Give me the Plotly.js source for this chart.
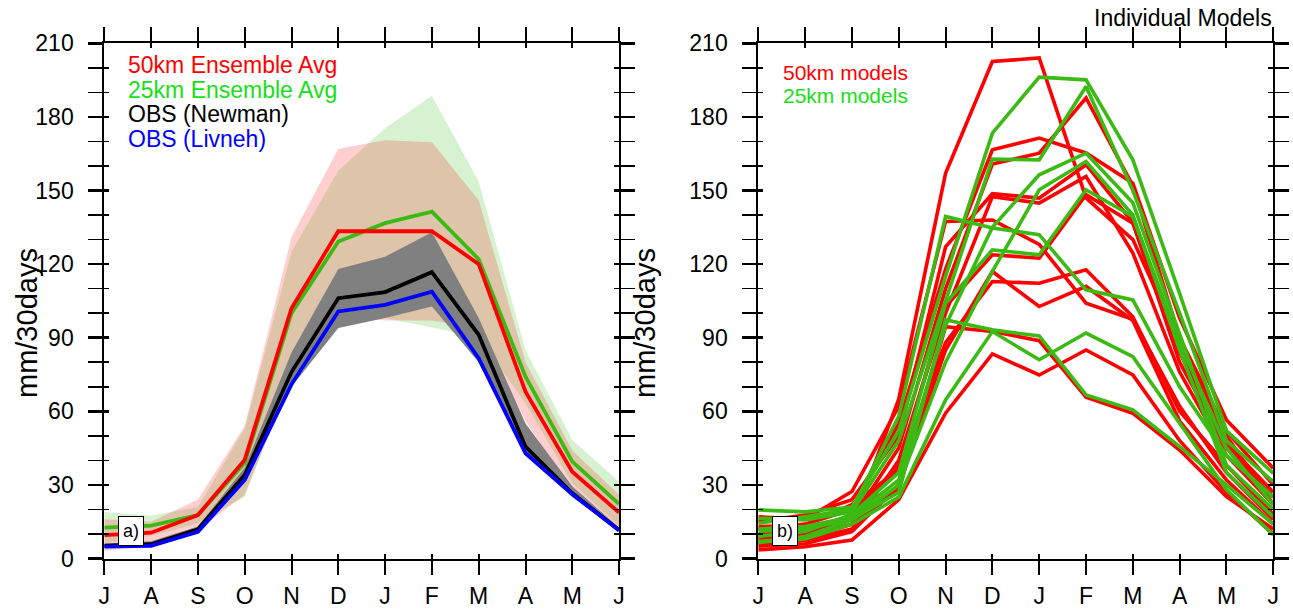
<!DOCTYPE html>
<html>
<head>
<meta charset="utf-8">
<script src="https://cdn.plot.ly/plotly-3.0.1.min.js"></script>
<style>html,body{margin:0;padding:0;background:#fff;}#chart{width:1293px;height:613px;}</style>
</head>
<body>
<div id="chart"></div>
<script>
// ---- data ----
var monthLabels = ['J','A','S','O','N','D','J','F','M','A','M','J'];
var monthIdx = [0,1,2,3,4,5,6,7,8,9,10,11];

// Panel a) ensemble averages
var avg50 = [9.5, 10.5, 17.7, 40.2, 102, 133.4, 133.4, 133.4, 120, 68, 35.4, 18.7];
var avg25 = [12.6, 13.4, 17.7, 39, 100, 129.2, 136.7, 141.4, 122, 74.1, 39.5, 22.2];
var obsNewman = [5.2, 5.8, 11.9, 34, 76, 106.1, 108.6, 116.7, 91.2, 45.6, 26.6, 11.6];
var obsLivneh = [4.8, 5.2, 10.9, 32, 71, 100.7, 103.4, 108.8, 81.6, 42.9, 26.3, 11.4];
// spread envelopes
var hi50 = [16, 15, 24, 54, 131, 167, 170.5, 169.7, 146, 80, 44, 26];
var lo50 = [3, 6, 11.4, 26, 73, 99, 97, 97, 94, 56, 27, 12];
var hi25 = [19, 17.5, 21, 53, 125, 158, 175.4, 188.6, 153.7, 85, 48.3, 31.3];
var lo25 = [6.2, 9.3, 14.4, 25.2, 75, 100.4, 98, 94.2, 90.3, 63.2, 30.7, 13.1];
var hiObs = [6, 7, 13, 37, 84, 118, 123, 133, 98, 55, 29.5, 12.5];
var loObs = [4.5, 5, 10.5, 31, 70, 94, 98, 102.7, 80, 42, 25, 11];

// Panel b) individual models
var models50 = [
  [9, 8, 14, 65, 157, 202.6, 204, 147, 130, 88, 50, 22],
  [12, 14, 20, 55, 118, 166.6, 171.4, 165.3, 153, 98, 56.5, 36.8],
  [10, 11, 16, 45, 110, 160.8, 165.2, 187.7, 152, 90, 52, 30],
  [15, 17.7, 24, 50, 127, 148.7, 146.9, 160.5, 137, 80, 45, 25],
  [6, 7.5, 12, 40, 100, 147.5, 144.9, 155.7, 124.5, 76, 42, 22],
  [17, 16, 27.3, 62, 137.4, 138, 128, 104.1, 97.5, 62, 35, 16],
  [8, 10, 18, 38, 102.7, 123.8, 122.4, 148.3, 136.7, 84, 47, 27],
  [13, 13.7, 22, 36, 88, 112.9, 112.2, 117.7, 98.5, 60, 38, 18],
  [5, 6, 11, 30, 85, 117, 102.7, 110.9, 97, 56, 32, 14],
  [7, 9, 14, 28, 94.5, 92.5, 88.8, 65.7, 59.2, 44.2, 25.2, 12],
  [3.5, 4.8, 7.5, 24, 59.2, 83.4, 74.8, 85, 74.8, 48, 27, 10]
];
var models25 = [
  [19.8, 19, 21, 52, 115, 173.4, 196.2, 195.1, 162.5, 108, 52, 34.7],
  [16.4, 15.7, 19, 48, 105, 162.8, 162.5, 192.4, 150, 100, 48, 31.3],
  [14.4, 17, 20, 58, 139.4, 134.7, 132, 109.5, 105.4, 70, 42, 25],
  [9, 11, 18, 35, 104, 125.8, 123.8, 150.3, 139.4, 88, 45, 22],
  [12, 13, 17, 32, 95, 135, 156.4, 165.2, 145, 92, 38, 20],
  [6.4, 9, 15.7, 30, 80, 117, 150.3, 161.8, 140, 85, 35, 17],
  [11, 12, 16, 27, 97.3, 93.2, 90.7, 66.7, 60.6, 45.6, 30, 14],
  [7, 8, 14, 25, 64.6, 92.5, 81, 91.9, 82.3, 55, 28, 9.6]
];

var legendA = ['50km Ensemble Avg', '25km Ensemble Avg', 'OBS (Newman)', 'OBS (Livneh)'];
var legendB = ['50km models', '25km models'];

// ---- styles ----
var RED = '#ff0000', GREEN_LINE = '#3cba14', GREEN_TXT = '#16e016', BLUE = '#0000ff', BLACK = '#000000';
var FONT = 'Liberation Sans, Arial, Helvetica, sans-serif';

function band(hi, lo, color, xa, ya) {
  var xs = monthIdx.concat(monthIdx.slice().reverse());
  var ys = hi.concat(lo.slice().reverse());
  return {x: xs, y: ys, xaxis: xa, yaxis: ya, mode: 'lines', fill: 'toself',
          fillcolor: color, line: {width: 0, color: 'rgba(0,0,0,0)'}, hoverinfo: 'skip', showlegend: false};
}
function line(y, color, w, xa, ya) {
  return {x: monthIdx, y: y, xaxis: xa, yaxis: ya, mode: 'lines',
          line: {color: color, width: w}, showlegend: false, hoverinfo: 'skip'};
}

var traces = [];
traces.push(band(hi25, lo25, 'rgba(40,185,10,0.19)', 'x', 'y'));
traces.push(band(hi50, lo50, 'rgba(255,0,0,0.19)', 'x', 'y'));
traces.push(band(hiObs, loObs, 'rgb(128,128,128)', 'x', 'y'));
traces.push(line(obsNewman, BLACK, 3.8, 'x', 'y'));
traces.push(line(obsLivneh, BLUE, 3.8, 'x', 'y'));
traces.push(line(avg25, GREEN_LINE, 3.8, 'x', 'y'));
traces.push(line(avg50, RED, 3.8, 'x', 'y'));

models50.forEach(function(m){ traces.push(line(m, RED, 3.6, 'x2', 'y2')); });
models25.forEach(function(m){ traces.push(line(m, GREEN_LINE, 3.6, 'x2', 'y2')); });

// empty traces to register overlay (inner tick) axes
traces.push({x: [], y: [], xaxis: 'x3', yaxis: 'y3', mode: 'lines', showlegend: false});
traces.push({x: [], y: [], xaxis: 'x4', yaxis: 'y4', mode: 'lines', showlegend: false});

var W = 1293, H = 613;
var domA = [104.3 / W, 619.1 / W];
var domB = [758.3 / W, 1273.3 / W];
var domY = [(H - 558.5) / H, (H - 43.3) / H];

function xAxisMain(dom, anchor) {
  return {domain: dom, anchor: anchor, range: [0, 11], tickvals: monthIdx, ticktext: monthLabels,
          showgrid: false, zeroline: false, showline: true, linewidth: 2, linecolor: BLACK, mirror: 'ticks',
          ticks: 'outside', ticklen: 14, tickwidth: 2, tickcolor: BLACK, ticklabelstandoff: 2,
          tickfont: {family: FONT, size: 23, color: BLACK}, fixedrange: true};
}
function yAxisMain(anchor) {
  return {domain: domY, anchor: anchor, range: [0, 210], tickmode: 'linear', tick0: 0, dtick: 30,
          showgrid: false, zeroline: false, showline: true, linewidth: 2, linecolor: BLACK, mirror: 'ticks',
          ticks: 'outside', ticklen: 14, tickwidth: 2.5, tickcolor: BLACK, ticklabelstandoff: 10,
          minor: {dtick: 10, ticks: 'outside', ticklen: 14, tickwidth: 1.5, tickcolor: BLACK, showgrid: false},
          tickfont: {family: FONT, size: 23, color: BLACK}, fixedrange: true};
}
function xAxisInner(dom, over, anchor) {
  return {domain: dom, overlaying: over, anchor: anchor, range: [0, 11], tickvals: monthIdx,
          showticklabels: false, showgrid: false, zeroline: false, showline: false, mirror: 'ticks',
          ticks: 'inside', ticklen: 5, tickwidth: 2, tickcolor: BLACK, fixedrange: true};
}
function yAxisInner(over, anchor) {
  return {domain: domY, overlaying: over, anchor: anchor, range: [0, 210], tickmode: 'linear', tick0: 0, dtick: 30,
          showticklabels: false, showgrid: false, zeroline: false, showline: false, mirror: 'ticks',
          ticks: 'inside', ticklen: 5, tickwidth: 2.5, tickcolor: BLACK,
          minor: {dtick: 10, ticks: 'inside', ticklen: 5, tickwidth: 1.5, tickcolor: BLACK, showgrid: false},
          fixedrange: true};
}

var annotations = [];
var colorsA = [RED, GREEN_TXT, BLACK, BLUE];
var yA = [65, 89.5, 114, 138.5];
legendA.forEach(function(t, i){
  annotations.push({text: t, xref: 'paper', yref: 'paper', x: 126 / W, y: 1 - yA[i] / H,
    xanchor: 'left', yanchor: 'middle', showarrow: false, font: {family: FONT, size: 23, color: colorsA[i]}});
});
var colorsB = [RED, GREEN_TXT];
var yB = [72.5, 95.5];
legendB.forEach(function(t, i){
  annotations.push({text: t, xref: 'paper', yref: 'paper', x: 781 / W, y: 1 - yB[i] / H,
    xanchor: 'left', yanchor: 'middle', showarrow: false, font: {family: FONT, size: 21, color: colorsB[i]}});
});
annotations.push({text: 'Individual Models', xref: 'paper', yref: 'paper', x: 1274 / W, y: 1 - 18 / H,
  xanchor: 'right', yanchor: 'middle', showarrow: false, font: {family: FONT, size: 23, color: BLACK}});
annotations.push({text: 'mm/30days', xref: 'paper', yref: 'paper', x: 27 / W, y: 1 - 323 / H,
  xanchor: 'center', yanchor: 'middle', textangle: -90, showarrow: false, font: {family: FONT, size: 29, color: BLACK}});
annotations.push({text: 'mm/30days', xref: 'paper', yref: 'paper', x: 645 / W, y: 1 - 323 / H,
  xanchor: 'center', yanchor: 'middle', textangle: -90, showarrow: false, font: {family: FONT, size: 29, color: BLACK}});
annotations.push({text: 'a)', xref: 'paper', yref: 'paper', x: 130.7 / W, y: 1 - 531 / H,
  xanchor: 'center', yanchor: 'middle', showarrow: false, bgcolor: '#ffffff', bordercolor: BLACK, borderwidth: 1, borderpad: 4,
  font: {family: FONT, size: 18, color: BLACK}});
annotations.push({text: 'b)', xref: 'paper', yref: 'paper', x: 785 / W, y: 1 - 531 / H,
  xanchor: 'center', yanchor: 'middle', showarrow: false, bgcolor: '#ffffff', bordercolor: BLACK, borderwidth: 1, borderpad: 4,
  font: {family: FONT, size: 18, color: BLACK}});

var layout = {
  width: W, height: H, margin: {l: 0, r: 0, t: 0, b: 0},
  paper_bgcolor: '#ffffff', plot_bgcolor: 'rgba(0,0,0,0)', showlegend: false,
  font: {family: FONT, color: BLACK},
  xaxis: xAxisMain(domA, 'y'), yaxis: yAxisMain('x'),
  xaxis2: xAxisMain(domB, 'y2'), yaxis2: yAxisMain('x2'),
  xaxis3: xAxisInner(domA, 'x', 'y3'), yaxis3: yAxisInner('y', 'x3'),
  xaxis4: xAxisInner(domB, 'x2', 'y4'), yaxis4: yAxisInner('y2', 'x4'),
  annotations: annotations
};

Plotly.newPlot('chart', traces, layout, {displayModeBar: false, staticPlot: true});
</script>
</body>
</html>
